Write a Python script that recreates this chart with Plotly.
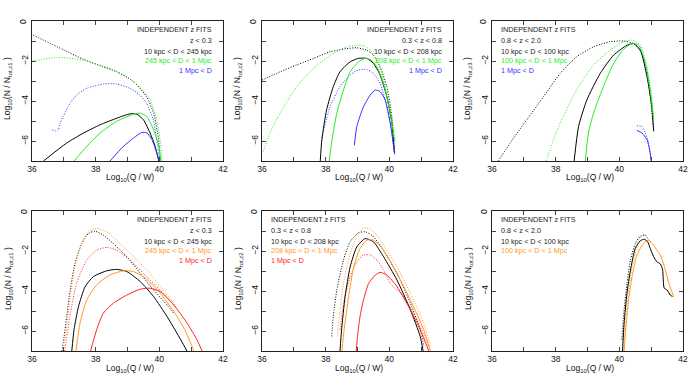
import plotly.graph_objects as go

W, H = 691, 385

# ---------------- data ----------------
# Panel 1: top-left, z < 0.3
p1_blk_dot_x = [36.04, 37.0, 37.62, 38.2, 38.66, 39.19, 39.6, 39.82, 39.98, 40.03]
p1_blk_dot_y = [-0.71, -1.45, -1.92, -2.27, -2.54, -3.03, -3.78, -4.61, -5.94, -7.0]
p1_grn_dot_x = [36.04, 36.78, 37.62, 38.45, 38.98, 39.4, 39.71, 39.92, 40.05, 40.08]
p1_grn_dot_y = [-1.99, -1.82, -1.96, -2.37, -2.79, -3.32, -3.95, -4.94, -6.27, -7.0]
p1_blu_dot_x = [36.64, 36.81, 36.88, 36.98, 37.19, 37.4, 37.72, 38.24, 38.66, 39.08, 39.39, 39.6, 39.81, 39.92, 40.02]
p1_blu_dot_y = [-5.45, -5.5, -5.12, -4.78, -4.12, -3.7, -3.37, -3.15, -3.15, -3.37, -3.7, -4.12, -4.95, -5.95, -7.0]
p1_blk_sol_x = [36.36, 37.09, 37.62, 38.14, 38.66, 39.08, 39.29, 39.5, 39.71, 39.87, 39.98]
p1_blk_sol_y = [-7.0, -6.1, -5.6, -5.19, -4.86, -4.64, -4.66, -4.94, -5.6, -6.27, -7.0]
p1_grn_sol_x = [37.32, 37.72, 38.14, 38.66, 39.19, 39.4, 39.61, 39.82, 39.98, 40.05]
p1_grn_sol_y = [-7.0, -6.27, -5.6, -5.02, -4.66, -4.61, -4.78, -5.44, -6.27, -7.0]
p1_blu_sol_x = [38.45, 38.87, 39.19, 39.45, 39.61, 39.77, 39.92, 40.0]
p1_blu_sol_y = [-7.0, -6.27, -5.85, -5.57, -5.6, -5.94, -6.6, -7.0]

# Panel 2: top-middle, 0.3 < z < 0.8
p2_blk_dot_x = [36.0, 36.57, 37.09, 37.62, 38.14, 38.66, 38.98, 39.29, 39.5, 39.71, 39.92, 40.08, 40.15, 40.17]
p2_blk_dot_y = [-2.95, -2.54, -2.2, -1.87, -1.54, -1.38, -1.34, -1.46, -1.71, -2.29, -3.28, -4.78, -6.1, -6.68]
p2_grn_dot_x = [36.04, 36.25, 36.57, 37.09, 37.62, 38.14, 38.66, 38.98, 39.19, 39.4, 39.61, 39.82, 40.03, 40.19]
p2_grn_dot_y = [-6.52, -5.6, -4.61, -3.28, -2.37, -1.71, -1.29, -1.21, -1.23, -1.46, -1.96, -2.95, -4.44, -6.1]
p2_blu_dot_x = [37.88, 38.14, 38.45, 38.77, 39.03, 39.29, 39.5, 39.71, 39.92, 40.08, 40.15]
p2_blu_dot_y = [-5.85, -4.28, -3.28, -2.7, -2.45, -2.42, -2.62, -3.12, -4.28, -5.6, -6.43]
p2_blk_sol_x = [37.83, 37.88, 38.03, 38.24, 38.45, 38.77, 39.03, 39.29, 39.5, 39.71, 39.92, 40.08, 40.16]
p2_blk_sol_y = [-7.0, -5.94, -4.44, -3.28, -2.54, -2.04, -1.87, -1.87, -2.12, -2.7, -3.78, -5.11, -6.6]
p2_grn_sol_x = [38.11, 38.2, 38.35, 38.56, 38.77, 39.03, 39.24, 39.4, 39.61, 39.82, 40.03, 40.16]
p2_grn_sol_y = [-7.0, -5.94, -4.61, -3.45, -2.54, -2.04, -1.87, -1.92, -2.29, -3.12, -4.61, -5.94]
p2_blu_sol_x = [38.9, 38.98, 39.19, 39.4, 39.56, 39.71, 39.87, 40.03, 40.16]
p2_blu_sol_y = [-6.22, -5.27, -4.28, -3.7, -3.45, -3.53, -3.95, -5.11, -6.6]

# Panel 3: top-right, 0.8 < z < 2.0
p3_blk_dot_x = [36.2, 36.57, 37.09, 37.62, 38.14, 38.66, 39.19, 39.71, 40.13, 40.45, 40.7, 40.9, 41.06]
p3_blk_dot_y = [-7.0, -6.1, -4.94, -3.78, -2.62, -1.79, -1.29, -1.04, -1.0, -1.13, -1.6, -2.8, -5.27]
p3_grn_dot_x = [37.7, 37.93, 38.14, 38.66, 39.19, 39.71, 40.13, 40.4, 40.66, 40.87, 41.02, 41.08]
p3_grn_dot_y = [-7.0, -5.94, -5.11, -3.45, -2.2, -1.46, -1.04, -0.96, -1.21, -2.29, -3.78, -4.94]
p3_blu_dot_x = [40.55, 40.71, 40.82, 40.92, 41.0]
p3_blu_dot_y = [-5.24, -5.27, -5.6, -6.1, -7.0]
p3_blk_sol_x = [38.58, 38.72, 38.98, 39.4, 39.82, 40.24, 40.45, 40.66, 40.87, 41.02, 41.08]
p3_blk_sol_y = [-7.0, -5.27, -3.95, -2.62, -1.71, -1.21, -1.13, -1.46, -2.79, -4.28, -5.52]
p3_grn_sol_x = [38.93, 39.03, 39.19, 39.5, 39.82, 40.13, 40.4, 40.61, 40.82, 40.97, 41.08]
p3_grn_sol_y = [-7.0, -5.6, -4.61, -3.28, -2.12, -1.42, -1.13, -1.21, -2.12, -3.45, -4.94]
p3_blu_sol_x = [40.55, 40.71, 40.87, 40.97, 41.0]
p3_blu_sol_y = [-5.47, -5.6, -5.94, -6.6, -7.0]

# Panel 4: bottom-left, z < 0.3
p4_blk_dot_x = [36.94, 37.01, 37.09, 37.2, 37.35, 37.56, 37.77, 37.98, 38.24, 38.56, 38.98, 39.4, 39.82, 40.24, 40.45]
p4_blk_dot_y = [-7.0, -6.27, -5.27, -3.95, -2.62, -1.63, -1.13, -1.01, -1.21, -1.63, -2.29, -3.12, -3.95, -4.69, -5.11]
p4_org_dot_x = [36.98, 37.09, 37.2, 37.35, 37.56, 37.77, 38.03, 38.35, 38.66, 39.19, 39.61, 40.03, 40.45, 40.55]
p4_org_dot_y = [-7.0, -5.77, -4.28, -2.79, -1.63, -1.04, -0.88, -1.04, -1.46, -2.29, -2.95, -3.78, -4.61, -4.86]
p4_red_dot_x = [37.03, 37.19, 37.4, 37.72, 38.03, 38.35, 38.66, 39.08, 39.5, 39.92, 40.35, 40.55]
p4_red_dot_y = [-7.0, -5.27, -3.62, -2.45, -1.96, -1.82, -1.96, -2.45, -3.12, -3.78, -4.53, -4.86]
p4_blk_sol_x = [37.25, 37.32, 37.46, 37.67, 37.93, 38.35, 38.66, 38.98, 39.4, 39.82, 40.24, 40.55, 40.87]
p4_blk_sol_y = [-7.0, -5.94, -4.78, -3.78, -3.28, -2.99, -2.92, -3.03, -3.53, -4.28, -5.27, -6.1, -7.0]
p4_org_sol_x = [37.38, 37.51, 37.72, 38.03, 38.45, 38.87, 39.19, 39.61, 40.03, 40.45, 40.77, 41.03, 41.08]
p4_org_sol_y = [-7.0, -5.6, -4.44, -3.7, -3.2, -2.99, -3.03, -3.42, -4.11, -5.02, -5.85, -6.77, -7.0]
p4_red_sol_x = [37.84, 38.03, 38.24, 38.56, 38.98, 39.4, 39.71, 40.03, 40.45, 40.87, 41.18, 41.34]
p4_red_sol_y = [-7.0, -5.94, -5.11, -4.61, -4.2, -3.91, -3.86, -4.03, -4.69, -5.6, -6.43, -7.0]

# Panel 5: bottom-middle, 0.3 < z < 0.8
p5_blk_dot_x = [38.19, 38.24, 38.35, 38.56, 38.77, 39.03, 39.24, 39.45, 39.71, 40.24, 40.66, 40.97, 41.08]
p5_blk_dot_y = [-6.27, -5.27, -3.95, -2.45, -1.54, -1.09, -1.04, -1.21, -1.71, -3.12, -4.61, -5.94, -6.77]
p5_org_dot_x = [38.37, 38.45, 38.56, 38.77, 38.98, 39.19, 39.4, 39.61, 39.92, 40.24, 40.66, 41.08, 41.29]
p5_org_dot_y = [-6.27, -4.94, -3.62, -2.12, -1.29, -0.83, -0.88, -1.21, -1.96, -2.79, -4.11, -5.6, -6.77]
p5_red_dot_x = [38.45, 38.56, 38.77, 38.98, 39.19, 39.4, 39.61, 39.82, 40.03, 40.45, 40.87, 41.24]
p5_red_dot_y = [-5.94, -4.61, -3.28, -2.54, -2.2, -2.2, -2.45, -2.95, -3.62, -4.28, -5.44, -6.77]
p5_blk_sol_x = [38.45, 38.5, 38.61, 38.77, 38.98, 39.24, 39.5, 39.82, 40.24, 40.66, 40.97, 41.06]
p5_blk_sol_y = [-7.0, -5.94, -4.28, -2.79, -1.79, -1.38, -1.54, -2.29, -3.45, -4.94, -6.27, -7.0]
p5_org_sol_x = [38.51, 38.58, 38.72, 38.87, 39.08, 39.29, 39.5, 39.82, 40.24, 40.66, 41.08, 41.29]
p5_org_sol_y = [-7.0, -5.94, -4.28, -2.87, -1.87, -1.46, -1.46, -1.96, -3.12, -4.44, -5.94, -7.0]
p5_red_sol_x = [38.96, 39.0, 39.08, 39.19, 39.35, 39.56, 39.71, 39.92, 40.24, 40.66, 40.97, 41.24]
p5_red_sol_y = [-7.0, -6.27, -5.27, -4.44, -3.62, -3.2, -3.07, -3.2, -3.78, -4.94, -5.94, -7.0]

# Panel 6: bottom-right, 0.8 < z < 2.0
p6_blk_dot_x = [40.08, 40.13, 40.24, 40.35, 40.5, 40.66, 40.82, 40.92]
p6_blk_dot_y = [-6.43, -5.27, -3.62, -2.45, -1.63, -1.26, -1.21, -1.46]
p6_org_dot_x = [40.13, 40.24, 40.4, 40.61, 40.76, 40.89]
p6_org_dot_y = [-7.0, -4.61, -2.79, -1.46, -1.16, -1.29]
p6_blk_sol_x = [40.1, 40.15, 40.24, 40.35, 40.5, 40.66, 40.78, 40.89, 40.97, 41.08, 41.18, 41.29, 41.36, 41.41, 41.5, 41.6, 41.67]
p6_blk_sol_y = [-7.0, -5.6, -4.11, -2.95, -1.87, -1.49, -1.41, -1.54, -1.87, -2.29, -2.54, -2.65, -2.95, -3.86, -3.95, -4.2, -4.28]
p6_org_sol_x = [40.15, 40.2, 40.29, 40.4, 40.55, 40.76, 40.92, 41.08, 41.18, 41.29, 41.4, 41.5, 41.59, 41.71]
p6_org_sol_y = [-7.0, -5.94, -4.44, -3.28, -2.2, -1.63, -1.46, -1.71, -1.96, -2.2, -2.7, -3.28, -3.78, -4.28]

# Legend texts
title_text = "INDEPENDENT z FITS"
z_labels = ["z &lt; 0.3", "0.3 &lt; z &lt; 0.8", "0.8 &lt; z &lt; 2.0"]
d1_labels = ["10 kpc &lt; D &lt; 245 kpc", "10 kpc &lt; D &lt; 208 kpc", "10 kpc &lt; D &lt; 100 kpc"]
d2_labels = ["245 kpc &lt; D &lt; 1 Mpc", "208 kpc &lt; D &lt; 1 Mpc", "100 kpc &lt; D &lt; 1 Mpc"]
d3_label = "1 Mpc &lt; D"

# axis ticks: labelled every 2, unlabelled tick marks in between
x_tickvals = [36, 37, 38, 39, 40, 41, 42]
x_ticktext = ["36", "", "38", "", "40", "", "42"]
y_tickvals = [-7, -6, -5, -4, -3, -2, -1, 0]
y_ticktext = ["", "\u22126", "", "\u22124", "", "\u22122", "", ""]
y_top_label = "0"   # label of the top tick (at the upper end of the y range)
x_range = [36, 42]
y_range = [-7, 0]

# ---------------- styling ----------------
BLACK = "#000000"
GREEN = "#22ee22"
BLUE = "#3333ff"
ORANGE = "#ff9a1a"
RED = "#ff2020"

col_left = [32, 262, 492]
pw = 191
row_top = [21, 211]
ph = 140

fig = go.Figure()

def add(panel, x, y, color, dotted):
    fig.add_trace(go.Scatter(
        x=x, y=y, mode="lines",
        xaxis="x" if panel == 1 else f"x{panel}",
        yaxis="y" if panel == 1 else f"y{panel}",
        line=dict(color=color, width=1.0,
                  dash="1px,1.6px" if dotted else "solid",
                  shape="spline", smoothing=0.6),
        showlegend=False, hoverinfo="skip"))

add(1, p1_blk_dot_x, p1_blk_dot_y, BLACK, True)
add(1, p1_grn_dot_x, p1_grn_dot_y, GREEN, True)
add(1, p1_blu_dot_x, p1_blu_dot_y, BLUE, True)
add(1, p1_blk_sol_x, p1_blk_sol_y, BLACK, False)
add(1, p1_grn_sol_x, p1_grn_sol_y, GREEN, False)
add(1, p1_blu_sol_x, p1_blu_sol_y, BLUE, False)

add(2, p2_blk_dot_x, p2_blk_dot_y, BLACK, True)
add(2, p2_grn_dot_x, p2_grn_dot_y, GREEN, True)
add(2, p2_blu_dot_x, p2_blu_dot_y, BLUE, True)
add(2, p2_blk_sol_x, p2_blk_sol_y, BLACK, False)
add(2, p2_grn_sol_x, p2_grn_sol_y, GREEN, False)
add(2, p2_blu_sol_x, p2_blu_sol_y, BLUE, False)

add(3, p3_blk_dot_x, p3_blk_dot_y, BLACK, True)
add(3, p3_grn_dot_x, p3_grn_dot_y, GREEN, True)
add(3, p3_blu_dot_x, p3_blu_dot_y, BLUE, True)
add(3, p3_blk_sol_x, p3_blk_sol_y, BLACK, False)
add(3, p3_grn_sol_x, p3_grn_sol_y, GREEN, False)
add(3, p3_blu_sol_x, p3_blu_sol_y, BLUE, False)

add(4, p4_blk_dot_x, p4_blk_dot_y, BLACK, True)
add(4, p4_org_dot_x, p4_org_dot_y, ORANGE, True)
add(4, p4_red_dot_x, p4_red_dot_y, RED, True)
add(4, p4_blk_sol_x, p4_blk_sol_y, BLACK, False)
add(4, p4_org_sol_x, p4_org_sol_y, ORANGE, False)
add(4, p4_red_sol_x, p4_red_sol_y, RED, False)

add(5, p5_blk_dot_x, p5_blk_dot_y, BLACK, True)
add(5, p5_org_dot_x, p5_org_dot_y, ORANGE, True)
add(5, p5_red_dot_x, p5_red_dot_y, RED, True)
add(5, p5_blk_sol_x, p5_blk_sol_y, BLACK, False)
add(5, p5_org_sol_x, p5_org_sol_y, ORANGE, False)
add(5, p5_red_sol_x, p5_red_sol_y, RED, False)

add(6, p6_blk_dot_x, p6_blk_dot_y, BLACK, True)
add(6, p6_org_dot_x, p6_org_dot_y, ORANGE, True)
add(6, p6_blk_sol_x, p6_blk_sol_y, BLACK, False)
add(6, p6_org_sol_x, p6_org_sol_y, ORANGE, False)

FONT = "Liberation Sans, Arial, sans-serif"
layout = dict(
    width=W, height=H, margin=dict(l=0, r=0, t=0, b=0),
    paper_bgcolor="white", plot_bgcolor="white",
    font=dict(family=FONT, size=8.5, color="#111"),
    showlegend=False,
)
annotations = []
for i in range(6):
    r, c = divmod(i, 3)
    n = i + 1
    xk = "xaxis" if n == 1 else f"xaxis{n}"
    yk = "yaxis" if n == 1 else f"yaxis{n}"
    x0 = col_left[c] / W
    x1 = (col_left[c] + pw) / W
    y1 = 1 - row_top[r] / H
    y0 = 1 - (row_top[r] + ph) / H
    common = dict(showline=True, linecolor="#222", linewidth=1, mirror="ticks",
                  ticks="inside", ticklen=4, tickwidth=0.8, tickcolor="#444",
                  showgrid=False, zeroline=False, automargin=False,
                  tickmode="array",
                  tickfont=dict(family=FONT, size=8.5, color="#111"))
    layout[xk] = dict(domain=[x0, x1], range=x_range, tickvals=x_tickvals, ticktext=x_ticktext,
                      anchor="y" if n == 1 else f"y{n}", **common)
    layout[yk] = dict(domain=[y0, y1], range=y_range, tickvals=y_tickvals, ticktext=y_ticktext,
                      tickangle=-90,
                      anchor="x" if n == 1 else f"x{n}", **common)
    # label of the top y tick, placed at the top edge of the panel
    annotations.append(dict(xref="paper", yref="paper",
                            x=(col_left[c] - 8.5) / W, y=1 - (row_top[r] + 0.5) / H,
                            text=y_top_label, showarrow=False, textangle=-90,
                            font=dict(family=FONT, size=8.5, color="#000"),
                            xanchor="center", yanchor="middle"))
    # axis titles
    annotations.append(dict(xref="paper", yref="paper",
                            x=(col_left[c] + pw / 2 + 2) / W, y=1 - (row_top[r] + ph + 17) / H,
                            text="Log<sub>10</sub>(Q / W)", showarrow=False,
                            font=dict(family=FONT, size=8.5, color="#111"),
                            xanchor="center", yanchor="middle"))
    annotations.append(dict(xref="paper", yref="paper",
                            x=(col_left[c] - 24) / W, y=1 - (row_top[r] + ph / 2 - 2) / H,
                            text=f"Log<sub>10</sub>(N / N<sub>tot,z{c+1}</sub> )", showarrow=False,
                            textangle=-90,
                            font=dict(family=FONT, size=8.5, color="#111"),
                            xanchor="center", yanchor="middle"))
    # legend text
    colors2 = [GREEN, ORANGE][r]
    colors3 = [BLUE, RED][r]
    lines = [(title_text, "#222"), (z_labels[c], "#222"), (d1_labels[c], "#222"), (d2_labels[c], colors2)]
    if not (r == 1 and c == 2):
        lines.append((d3_label, colors3))
    left_aligned = (c == 2) or (r == 1 and c == 1)
    offs = [8.5, 19.5, 30.5, 39.8, 49.0]
    for k, (t, col) in enumerate(lines):
        if left_aligned:
            xp = (col_left[c] + 6.5) / W
            xa = "left"
        else:
            xp = (col_left[c] + pw - 9) / W
            xa = "right"
        annotations.append(dict(xref="paper", yref="paper", x=xp,
                                y=1 - (row_top[r] + offs[k]) / H,
                                text=t, showarrow=False,
                                font=dict(family=FONT, size=7.2, color=col),
                                xanchor=xa, yanchor="middle"))
layout["annotations"] = annotations
fig.update_layout(**layout)
fig.write_html("out.html", config={"displayModeBar": False},
               post_script="document.body.style.margin='0px';")
